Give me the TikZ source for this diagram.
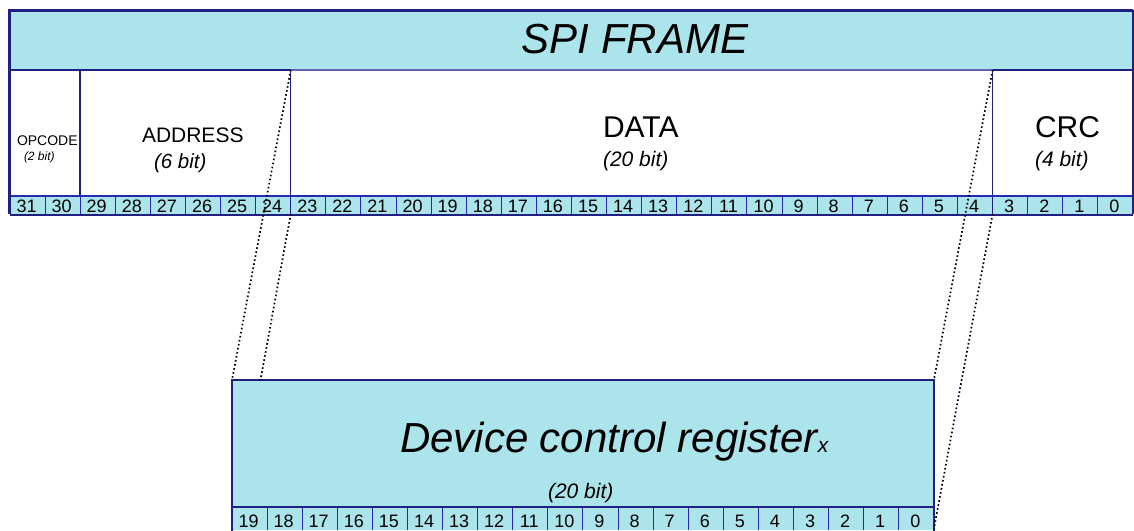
\documentclass[tikz,border=0pt]{standalone}
\usepackage{fontspec}
\setmainfont{Liberation Sans}
\definecolor{band}{RGB}{172,228,235}
\definecolor{navy}{RGB}{32,32,128}
\definecolor{cellblue}{RGB}{40,40,175}
\definecolor{slate}{RGB}{104,96,176}
\begin{document}
\begin{tikzpicture}[x=1pt,y=-1pt,
  txt/.style={inner sep=0pt, outer sep=0pt, anchor=base west},
  bitlbl/.style={inner sep=0pt, anchor=base, font=\fontsize{18}{18}\selectfont},
  sep/.style={cellblue, line width=1pt},
  frameline/.style={navy, line width=2pt},
  dotline/.style={black, line width=1.7pt, dash pattern=on 1.6pt off 2.5pt}]
\useasboundingbox (0,0) rectangle (1134,530);
\pgfmathsetmacro{\w}{1123/32}

% ---------- SPI frame ----------
\fill[band] (10,10) rectangle (1133,70);
\fill[band] (10,196) rectangle (1133,214);
\foreach \i in {1,...,31}
  \draw[sep] ({10+\i*\w},196) -- ({10+\i*\w},214);
\foreach \i in {0,...,31}{
  \pgfmathtruncatemacro{\b}{31-\i}
  \node[bitlbl] (b\b) at ({10+(\i+0.5)*\w-1},212) {\b};
}
% field dividers
\draw[navy, line width=1.2pt] (80,70) -- (80,196);
\draw[navy, line width=1.2pt] ({10+8*\w},70) -- ({10+8*\w},214);
\draw[navy, line width=1.2pt] ({10+28*\w},70) -- ({10+28*\w},214);
% horizontal rules
\draw[cellblue, line width=1.2pt] (10,196) -- (1133,196);
\draw[navy, line width=2pt] (10,70) -- ({10+8*\w},70);
\draw[slate, line width=2pt] ({10+8*\w},70) -- ({10+28*\w},70);
\draw[navy, line width=2pt] ({10+28*\w},70) -- (1133,70);
\draw[navy, line width=2pt] (9.5,214.5) -- (1133,214.5);
% outer border
\draw[navy, line width=3pt] (9.5,214) -- (9.5,10.5) -- (1133,10.5);
\draw[navy, line width=1.6pt] (1133,10) -- (1133,214);

% field texts
\node[inner sep=0pt, anchor=base, font=\fontsize{42}{42}\selectfont\itshape] (title) at (635,53) {SPI FRAME};
\node[txt, font=\fontsize{14}{14}\selectfont] (opc) at (17,145) {OPCODE};
\node[txt, font=\fontsize{12}{12}\selectfont\itshape] (opcb) at (24,160) {(2 bit)};
\node[txt, font=\fontsize{21}{21}\selectfont] (addr) at (142,142) {ADDRESS};
\node[txt, font=\fontsize{20.5}{21}\selectfont\itshape] (addrb) at (154,168) {(6 bit)};
\node[txt, font=\fontsize{30}{30}\selectfont] (data) at (603,137) {DATA};
\node[txt, font=\fontsize{21}{21}\selectfont\itshape] (datab) at (603,166) {(20 bit)};
\node[txt, font=\fontsize{30}{30}\selectfont] (crc) at (1035,137) {CRC};
\node[txt, font=\fontsize{21}{21}\selectfont\itshape] (crcb) at (1035,166) {(4 bit)};

% ---------- device control register ----------
\fill[band] (232,380) rectangle ({232+20*\w},530);
\foreach \i in {1,...,19}
  \draw[sep] ({232+\i*\w},507) -- ({232+\i*\w},530);
\foreach \i in {0,...,19}{
  \pgfmathtruncatemacro{\b}{19-\i}
  \node[bitlbl] (r\b) at ({232+(\i+0.5)*\w-1},527) {\b};
}
\draw[navy, line width=1.5pt] (232,507) -- ({232+20*\w},507);
\draw[frameline] (232,531) -- (232,380) -- ({232+20*\w},380) -- ({232+20*\w},531);
\node[txt, font=\fontsize{42}{42}\selectfont\itshape] (reg) at (400,452)
  {Device control register{\fontsize{21}{21}\selectfont x}};
\node[txt, font=\fontsize{21}{21}\selectfont\itshape] (regb) at (548,498) {(20 bit)};

% ---------- mapping of DATA onto the register ----------
\coordinate (dTopL) at ({10+8*\w},70);
\coordinate (dBotL) at ({10+8*\w},214);
\coordinate (dTopR) at ({10+28*\w},70);
\coordinate (dBotR) at ({10+28*\w},214);
\coordinate (rTopL) at (232,380);
\coordinate (rTopM) at (260.5,380);
\coordinate (rTopR) at ({232+20*\w},380);
\coordinate (rBotR) at ({232+20*\w},529);
\draw[dotline] (dTopL) -- (rTopL);
\draw[dotline] (dBotL) -- (rTopM);
\draw[dotline] (dTopR) -- (rTopR);
\draw[dotline] (dBotR) -- (rBotR);
\end{tikzpicture}
\end{document}
